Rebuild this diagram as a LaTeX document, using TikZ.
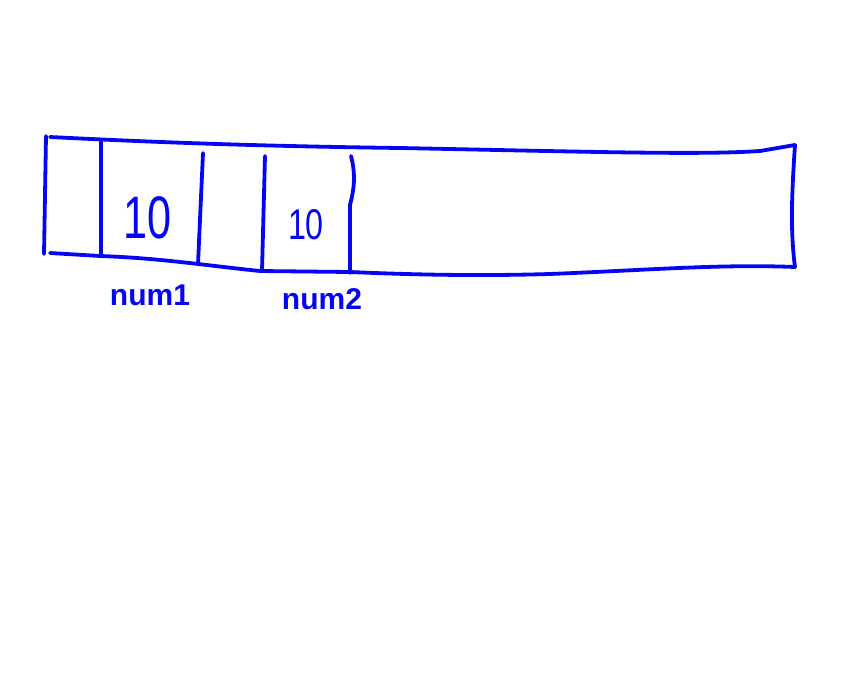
\documentclass[tikz,border=0pt]{standalone}
\usepackage{fontspec}
\setmainfont{Liberation Sans}
\definecolor{pen}{RGB}{5,5,245}
\begin{document}
\begin{tikzpicture}[x=1pt,y=-1pt,
  ink/.style={draw=pen,line width=3.8pt,line cap=round,line join=round},
  lbl/.style={text=pen,inner sep=0pt,font=\bfseries\fontsize{30}{30}\selectfont},
  val/.style={text=pen,inner sep=0pt}]
\useasboundingbox (0,0) rectangle (860,675);
% outline
\draw[ink] (46,136) -- (44,254);
\draw[ink] (50,137) .. controls (150,142) and (250,146) .. (400,148) .. controls (600,152) and (700,155) .. (760,151) -- (795,145);
\draw[ink] (795,145) .. controls (792,190) and (790,230) .. (795,267);
\draw[ink] (50,253) -- (100,256) .. controls (160,258) and (210,266) .. (260,271) -- (350,272) .. controls (420,275) and (480,276) .. (550,274) .. controls (650,270) and (720,264) .. (795,267);
% dividers
\draw[ink] (101,142) -- (101,256);
\draw[ink] (203,153) -- (198,264);
\draw[ink] (265,156) -- (262,271);
\draw[ink] (351,156) .. controls (356,175) and (354,190) .. (350,205) -- (350,273);
% values
\node[val] (v1) at (148,218) {\scalebox{0.72}[1]{\fontsize{60}{60}\selectfont 10}};
\node[val] (v2) at (306,225) {\scalebox{0.75}[1]{\fontsize{43}{43}\selectfont 10}};
% labels
\node[lbl] (n1) at (150,295) {num1};
\node[lbl] (n2) at (322,299) {num2};
\end{tikzpicture}
\end{document}
